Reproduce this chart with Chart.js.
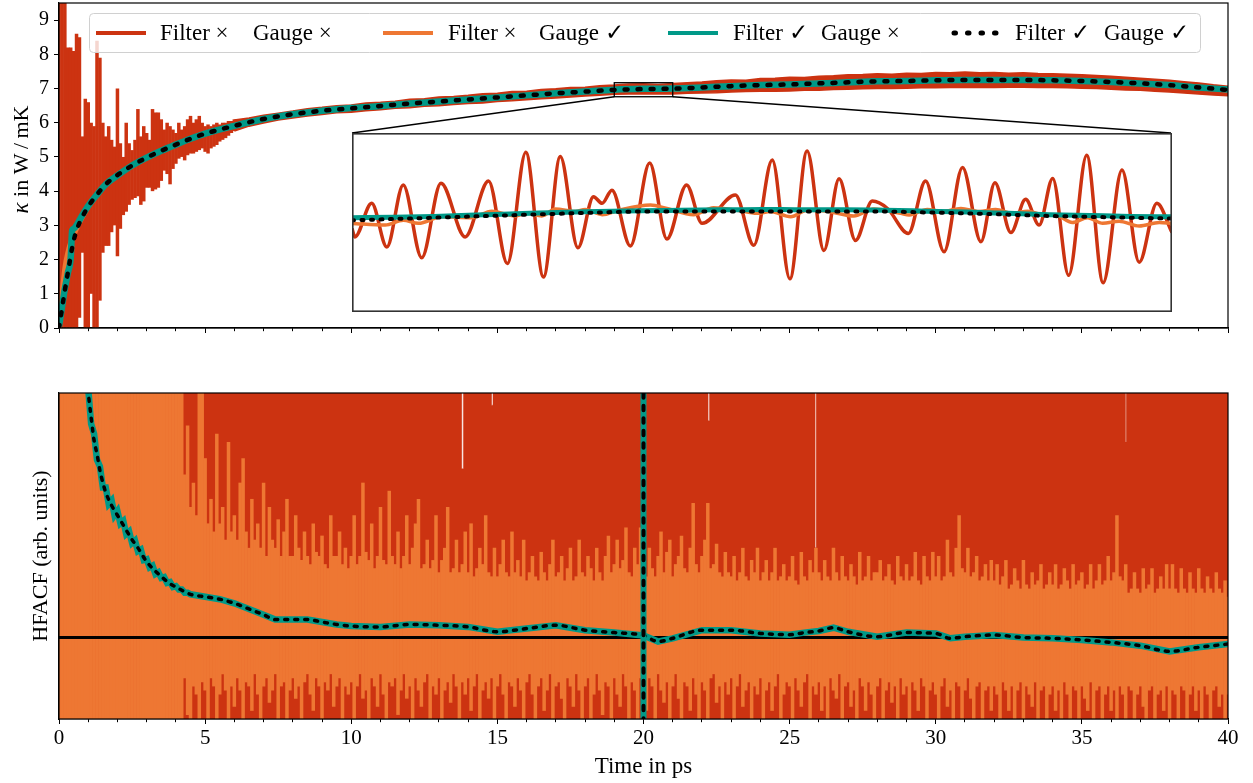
<!DOCTYPE html>
<html>
<head>
<meta charset="utf-8">
<script src="https://cdn.jsdelivr.net/npm/chart.js@4.4.1/dist/chart.umd.min.js"></script>
<style>
  html, body { margin: 0; padding: 0; background: #fff; }
  #wrap { position: relative; width: 1253px; height: 783px; overflow: hidden; }
  .panel { position: absolute; }
</style>
</head>
<body>
<div id="wrap">
  <div class="panel" style="left:0;top:0;width:1253px;height:345px"><canvas id="kappa" width="1253" height="345"></canvas></div>
  <div class="panel" style="left:352px;top:133px;width:820px;height:179px"><canvas id="zoom" width="820" height="179"></canvas></div>
  <div class="panel" style="left:0;top:345px;width:1253px;height:438px"><canvas id="hfacf" width="1253" height="438"></canvas></div>
</div>
<script>
// ---------- series names ----------
const filterMarks = ['Filter \u00d7', 'Filter \u00d7', 'Filter \u2713', 'Filter \u2713'];
const gaugeMarks  = ['Gauge \u00d7', 'Gauge \u2713', 'Gauge \u00d7', 'Gauge \u2713'];
const kappaAxisTitle = { symbol: '\u03ba', rest: ' in W\u2009/\u2009mK' };

// ---------- kappa(t), smooth series (W/mK) ----------
const kappaTime = [0, 0.1, 0.2, 0.3, 0.4, 0.45, 0.5, 0.6, 0.8, 1.0, 1.3, 1.6, 2.0, 2.5, 3.0, 3.5, 4.0, 4.5, 5,
  6, 7, 8, 9, 10, 11, 12, 13, 14, 15, 16, 17, 18, 19, 20, 21, 22, 23, 24, 25, 26, 27, 28, 29, 30,
  31, 32, 33, 34, 35, 36, 37, 38, 39, 40];
const kappaFiltGauge = [0, 0.55, 1.1, 1.6, 2.1, 2.35, 2.55, 2.85, 3.25, 3.55, 3.9, 4.2, 4.47, 4.75, 4.98, 5.18, 5.36, 5.53, 5.68,
  5.91, 6.11, 6.25, 6.35, 6.42, 6.49, 6.56, 6.62, 6.68, 6.74, 6.80, 6.86, 6.91, 6.96, 6.985, 6.995, 7.03, 7.07, 7.10, 7.12, 7.15, 7.18, 7.21, 7.22, 7.24,
  7.25, 7.25, 7.25, 7.24, 7.22, 7.19, 7.15, 7.10, 7.03, 6.96];
const kappaFilt = [0.05, 0.6, 1.15, 1.6, 2.05, 2.85, 2.9, 3.0, 3.3, 3.57, 3.9, 4.2, 4.46, 4.75, 4.98, 5.18, 5.36, 5.53, 5.68,
  5.91, 6.11, 6.25, 6.35, 6.43, 6.49, 6.56, 6.62, 6.68, 6.74, 6.80, 6.86, 6.91, 6.965, 6.99, 6.998, 7.03, 7.07, 7.10, 7.12, 7.15, 7.18, 7.21, 7.22, 7.24,
  7.25, 7.25, 7.25, 7.24, 7.22, 7.19, 7.15, 7.10, 7.03, 6.97];
const kappaGauge = [0, 0.95, 1.75, 2.2, 2.5, 2.6, 2.7, 2.9, 3.25, 3.55, 3.9, 4.2, 4.47, 4.74, 4.98, 5.18, 5.37, 5.53, 5.68,
  5.92, 6.1, 6.25, 6.36, 6.42, 6.5, 6.56, 6.62, 6.69, 6.74, 6.8, 6.87, 6.91, 6.96, 6.985, 6.98, 7.03, 7.08, 7.1, 7.12, 7.16, 7.18, 7.21, 7.23, 7.24,
  7.25, 7.26, 7.25, 7.24, 7.21, 7.18, 7.15, 7.09, 7.03, 6.96];

// ---------- kappa(t), raw series: spread of the oscillating trace ----------
const RAW_EARLY_DT = 0.1;   // bins over t = 0 ... 6 ps
const rawEarlyUpper = [9.6, 9.6, 9.6, 8.2, 8.2, 8.1, 8.6, 8.5, 5.6, 6.7, 6.6, 6.0, 5.9, 8.4, 7.9, 6.0, 5.6, 5.9, 5.5, 5.3,
  7.0, 5.4, 5.0, 6.0, 5.4, 5.2, 5.5, 6.4, 5.6, 5.9, 5.7, 5.5, 6.4, 6.3, 6.3, 6.1, 5.8, 6.0, 5.9, 5.8,
  5.7, 6.0, 5.8, 5.9, 6.1, 6.2, 6.0, 6.1, 6.2, 6.0, 5.9, 5.95, 5.9, 5.95, 6.0, 5.95, 6.0, 6.0, 6.05, 6.05, 6.1];
const rawEarlyLower = [0, 0, 0, 0, 0, 0, 0, 0.3, 2.2, 0, 0, 1.0, 0, 0, 0.8, 2.2, 2.4, 2.4, 2.8, 3.0,
  2.1, 2.9, 3.3, 3.4, 3.6, 3.75, 3.8, 3.85, 3.6, 3.7, 4.1, 4.1, 4.0, 4.05, 4.1, 4.3, 4.6, 4.5, 4.2, 4.65,
  4.8, 4.95, 5.0, 4.9, 5.05, 5.1, 5.1, 5.15, 5.2, 5.25, 5.15, 5.1, 5.25, 5.3, 5.35, 5.45, 5.5, 5.55, 5.62, 5.7, 5.76];
const RAW_LATE_START = 6, RAW_LATE_DT = 0.5;   // t = 6 ... 40 ps
const rawLateUpper = [6.08, 6.14, 6.22, 6.28, 6.34, 6.41, 6.45, 6.5, 6.52, 6.58, 6.6, 6.63, 6.69, 6.7, 6.75, 6.77, 6.8, 6.85, 6.86, 6.91,
  6.92, 6.97, 6.99, 7.03, 7.04, 7.08, 7.1, 7.13, 7.14, 7.12, 7.15, 7.17, 7.19, 7.23, 7.25, 7.24, 7.29, 7.3, 7.33, 7.32,
  7.36, 7.37, 7.4, 7.41, 7.43, 7.42, 7.45, 7.44, 7.47, 7.46, 7.48, 7.46, 7.47, 7.45, 7.46, 7.44, 7.43, 7.42, 7.4, 7.38,
  7.36, 7.33, 7.3, 7.27, 7.24, 7.2, 7.16, 7.11, 7.07];
const rawLateLower = [5.76, 5.9, 5.99, 6.08, 6.14, 6.2, 6.24, 6.29, 6.31, 6.35, 6.38, 6.42, 6.44, 6.48, 6.5, 6.53, 6.56, 6.58, 6.62, 6.64,
  6.67, 6.7, 6.72, 6.75, 6.78, 6.8, 6.83, 6.84, 6.84, 6.85, 6.84, 6.86, 6.87, 6.88, 6.9, 6.91, 6.92, 6.92, 6.93, 6.95,
  6.95, 6.97, 6.98, 6.99, 7.0, 7.0, 7.01, 7.02, 7.02, 7.03, 7.03, 7.04, 7.03, 7.04, 7.04, 7.03, 7.03, 7.02, 7.01, 7.0,
  6.98, 6.96, 6.95, 6.92, 6.9, 6.87, 6.84, 6.81, 6.79];

// ---------- magnified window: 19 ... 21 ps ----------
const zoomTimeRange = [19, 21];
const zoomKappaRange = [6.76, 7.17];
const zoomRawTime = [19.000, 19.007, 19.048, 19.085, 19.125, 19.170, 19.217, 19.276, 19.333, 19.379, 19.424, 19.467, 19.508, 19.551, 19.589, 19.610, 19.634,
  19.679, 19.726, 19.768, 19.816, 19.854, 19.935, 19.980, 20.025, 20.068, 20.110, 20.151, 20.188, 20.228, 20.269, 20.306, 20.357, 20.399, 20.444,
  20.489, 20.534, 20.568, 20.607, 20.643, 20.676, 20.709, 20.748, 20.792, 20.832, 20.878, 20.920, 20.963, 21.000];
const zoomRaw = [6.951, 6.932, 7.009, 6.909, 7.051, 6.884, 7.055, 6.932, 7.060, 6.871, 7.126, 6.840, 7.116, 6.907, 7.024, 7.009, 7.039,
  6.911, 7.101, 6.927, 7.051, 6.963, 7.028, 6.913, 7.108, 6.836, 7.129, 6.901, 7.065, 6.924, 7.014, 6.997, 6.940, 7.060, 6.898,
  7.091, 6.921, 7.056, 6.942, 7.018, 6.959, 7.066, 6.844, 7.119, 6.827, 7.085, 6.874, 7.009, 6.942];
const zoomGaugeTime = [19.000, 19.081, 19.125, 19.162, 19.219, 19.292, 19.341, 19.398, 19.427, 19.463, 19.496, 19.545, 19.569, 19.610, 19.650,
  19.728, 19.768, 19.833, 19.882, 19.939, 19.988, 20.021, 20.070, 20.110, 20.159, 20.224, 20.273, 20.338, 20.359, 20.403, 20.440, 20.485,
  20.529, 20.570, 20.611, 20.648, 20.684, 20.717, 20.757, 20.794, 20.831, 20.871, 20.920, 20.969, 21.000];
const zoomGauge = [6.963, 6.959, 6.970, 6.963, 6.978, 6.976, 6.991, 6.980, 6.986, 6.980, 6.996, 6.990, 6.995, 6.983, 6.993,
  7.005, 6.997, 6.983, 6.999, 6.993, 6.986, 6.990, 6.978, 6.993, 6.991, 6.980, 6.996, 6.986, 6.982, 6.995, 6.990, 6.997,
  6.990, 6.995, 6.986, 6.991, 6.983, 6.982, 6.965, 6.976, 6.963, 6.968, 6.957, 6.965, 6.963];
const zoomSmoothTime = [19.0, 19.1, 19.2, 19.3, 19.4, 19.5, 19.6, 19.7, 19.8, 19.9, 20.0, 20.1, 20.2, 20.3, 20.4, 20.5, 20.6, 20.7, 20.8, 20.9, 21.0];
const zoomFilt = [6.976, 6.977, 6.979, 6.982, 6.985, 6.988, 6.990, 6.992, 6.993, 6.994, 6.995, 6.994, 6.994, 6.993, 6.991, 6.989, 6.986, 6.983, 6.981, 6.979, 6.978];
const zoomFiltGauge = [6.970, 6.973, 6.976, 6.979, 6.982, 6.985, 6.988, 6.990, 6.990, 6.990, 6.990, 6.990, 6.990, 6.990, 6.988, 6.986, 6.983, 6.980, 6.978, 6.976, 6.974];

// ---------- HFACF (arb. units) ----------
// gauge-only trace: reach above and below per 0.1 ps bin, t = 0 ... 40 ps
const HF_DT = 0.1;
const hfGaugeUpper = [
  3.5, 3.5, 3.5, 3.5, 3.5, 3.5, 3.5, 3.5, 3.5, 3.5, 3.5, 3.5, 3.5, 3.5, 3.5, 3.5, 3.5, 3.5, 3.5, 3.5,
  3.5, 3.5, 3.5, 3.5, 3.5, 3.5, 3.5, 3.5, 3.5, 3.5, 3.5, 3.5, 3.5, 3.5, 3.5, 3.5, 3.5, 3.5, 3.5, 3.5,
  3.5, 3.5, 3.5, 2.0, 2.6, 1.6, 1.9, 1.5, 3.5, 3.5, 2.2, 1.4, 1.7, 1.3, 2.5, 1.4, 1.6, 1.2, 2.4, 1.3,
  1.5, 1.2, 1.9, 2.2, 1.3, 1.1, 1.7, 1.2, 1.4, 1.1, 1.9, 1.0, 1.6, 1.2, 1.1, 1.45, 1.0, 1.3, 1.7, 1.0,
  1.0, 1.5, 1.1, 0.95, 1.3, 1.0, 0.9, 1.4, 1.05, 1.0, 1.25, 0.9, 0.85, 1.5, 1.0, 1.0, 1.3, 0.9, 1.1, 0.85,
  1.0, 1.5, 0.9, 1.0, 1.9, 1.05, 0.95, 1.4, 0.85, 1.0, 1.6, 0.95, 0.9, 1.8, 1.0, 0.9, 1.3, 0.85, 1.0, 1.5,
  0.9, 1.1, 1.4, 1.7, 0.85, 0.9, 1.2, 0.85, 0.95, 1.5, 0.8, 0.95, 1.1, 1.6, 0.8, 0.85, 1.2, 0.8, 0.9, 1.3,
  0.8, 1.4, 0.75, 0.85, 1.1, 0.9, 1.5, 0.8, 0.75, 1.1, 0.75, 0.9, 1.2, 0.8, 0.75, 1.3, 0.8, 0.95, 0.75, 1.2,
  0.7, 0.8, 1.0, 0.75, 0.7, 1.05, 0.8, 0.7, 0.9, 1.2, 0.75, 0.8, 1.0, 0.7, 0.85, 1.1, 0.7, 0.75, 1.2, 0.8,
  0.75, 1.0, 0.85, 0.7, 1.1, 0.8, 0.7, 1.0, 1.25, 0.8, 0.9, 1.2, 0.85, 0.95, 1.35, 0.8, 0.75, 1.1, 0.9, 1.35,
  0.8, 0.75, 1.1, 0.85, 0.75, 1.0, 1.3, 0.8, 1.05, 1.2, 0.75, 0.9, 1.0, 1.25, 0.85, 0.8, 1.1, 1.65, 0.9, 0.8,
  1.0, 1.2, 1.65, 0.85, 0.9, 1.15, 0.8, 0.75, 1.05, 0.8, 0.75, 1.0, 0.7, 0.8, 1.1, 0.75, 0.7, 0.95, 0.8, 1.1,
  0.7, 0.8, 0.95, 0.7, 0.8, 1.1, 0.7, 0.75, 0.9, 0.7, 0.75, 1.0, 0.7, 0.65, 1.05, 0.75, 0.7, 0.95, 0.8, 1.1,
  0.8, 0.7, 0.95, 0.75, 0.7, 1.1, 0.8, 0.7, 1.0, 0.75, 0.7, 0.9, 0.75, 0.65, 1.05, 0.7, 0.75, 1.0, 0.7, 0.8,
  0.8, 0.95, 0.7, 0.75, 0.9, 0.7, 0.65, 1.0, 0.75, 0.7, 0.9, 0.7, 0.75, 1.05, 0.7, 0.65, 1.0, 0.75, 0.7, 1.05,
  0.75, 1.0, 0.7, 0.75, 1.2, 0.8, 0.75, 1.1, 1.5, 0.85, 0.8, 1.1, 0.75, 0.8, 1.0, 0.7, 0.75, 0.9, 0.7, 0.95,
  0.7, 0.9, 0.65, 0.75, 0.95, 0.6, 0.65, 0.85, 0.7, 0.6, 0.95, 0.65, 0.6, 0.8, 0.65, 0.7, 0.9, 0.6, 0.65, 0.8,
  0.65, 0.9, 0.6, 0.65, 0.85, 0.7, 0.6, 0.9, 0.65, 0.7, 0.8, 0.6, 0.65, 0.9, 0.6, 0.7, 0.9, 0.65, 0.7, 1.0,
  0.7, 0.8, 1.5, 0.75, 0.7, 0.9, 0.55, 0.6, 0.8, 0.6, 0.55, 0.85, 0.6, 0.65, 0.85, 0.55, 0.6, 0.75, 0.6, 0.9,
  0.6, 0.9, 0.6, 0.55, 0.85, 0.6, 0.55, 0.8, 0.6, 0.55, 0.85, 0.6, 0.55, 0.75, 0.6, 0.55, 0.8, 0.6, 0.55, 0.7,
  0.5];
const hfGaugeLower = [
  -1.2, -1.2, -1.2, -1.2, -1.2, -1.2, -1.2, -1.2, -1.2, -1.2, -1.2, -1.2, -1.2, -1.2, -1.2, -1.2, -1.2, -1.2, -1.2, -1.2,
  -1.2, -1.2, -1.2, -1.2, -1.2, -1.2, -1.2, -1.2, -1.2, -1.2, -1.2, -1.2, -1.2, -1.2, -1.2, -1.2, -1.2, -1.2, -1.2, -1.2,
  -1.2, -1.2, -1.2, -0.5, -0.95, -1.2, -0.6, -0.7, -1.2, -0.55, -0.65, -1.0, -0.5, -0.6, -1.2, -0.7, -0.45, -0.65, -1.2, -0.6,
  -0.85, -0.5, -0.65, -1.2, -0.55, -0.6, -0.9, -0.45, -0.7, -1.2, -0.6, -0.5, -0.8, -0.65, -0.45, -1.0, -0.6, -0.55, -1.2, -0.65,
  -0.5, -0.75, -0.6, -1.2, -0.55, -0.45, -0.7, -0.9, -0.5, -0.6, -1.2, -0.55, -0.65, -0.45, -0.85, -0.6, -0.5, -1.0, -0.6, -0.7,
  -0.55, -1.2, -0.6, -0.45, -0.75, -0.65, -1.0, -0.5, -0.6, -0.85, -0.45, -0.7, -1.2, -0.55, -0.6, -0.5, -0.95, -0.65, -0.45, -0.75,
  -0.6, -1.2, -0.5, -0.65, -0.85, -0.55, -0.45, -1.0, -0.6, -0.7, -0.5, -1.2, -0.65, -0.55, -0.8, -0.45, -0.6, -1.0, -0.55, -0.7,
  -0.5, -0.9, -0.6, -0.45, -1.2, -0.65, -0.55, -0.75, -0.5, -1.0, -0.6, -0.45, -0.7, -1.2, -0.55, -0.6, -0.85, -0.5, -0.65, -1.0,
  -0.55, -0.45, -0.7, -1.2, -0.6, -0.5, -0.9, -0.65, -0.45, -1.0, -0.6, -0.55, -0.75, -1.2, -0.5, -0.6, -0.85, -0.45, -0.65, -1.0,
  -0.6, -0.5, -1.2, -0.7, -0.45, -0.65, -0.95, -0.55, -0.6, -1.2, -0.5, -0.7, -0.85, -0.45, -0.6, -1.0, -0.55, -0.65, -1.2, -0.5,
  -0.7, -0.9, -0.5, -0.6, -1.2, -0.45, -0.65, -0.8, -0.55, -1.0, -0.6, -0.45, -0.75, -1.2, -0.55, -0.6, -0.9, -0.5, -0.7, -1.0,
  -0.55, -0.65, -1.2, -0.5, -0.45, -0.8, -0.6, -1.0, -0.55, -0.7, -0.5, -1.2, -0.6, -0.45, -0.85, -0.65, -0.55, -1.0, -0.6, -0.7,
  -0.5, -1.2, -0.65, -0.55, -0.9, -0.6, -0.45, -1.0, -0.7, -0.55, -0.6, -1.2, -0.5, -0.65, -0.85, -0.55, -0.45, -1.0, -0.6, -0.7,
  -0.55, -0.9, -0.6, -1.2, -0.5, -0.65, -0.75, -0.45, -1.0, -0.6, -0.55, -0.85, -0.65, -1.2, -0.5, -0.6, -0.9, -0.55, -0.7, -1.0,
  -0.6, -0.5, -1.2, -0.65, -0.55, -0.8, -0.6, -1.0, -0.5, -0.7, -0.6, -1.2, -0.55, -0.65, -0.9, -0.5, -0.6, -1.0, -0.65, -0.55,
  -0.7, -1.2, -0.6, -0.5, -0.85, -0.65, -1.0, -0.55, -0.6, -1.2, -0.65, -0.5, -0.75, -1.0, -0.6, -0.55, -1.2, -0.65, -0.6, -0.9,
  -0.6, -0.7, -1.2, -0.55, -0.65, -0.9, -0.6, -1.0, -0.65, -0.55, -1.2, -0.6, -0.7, -0.85, -0.55, -1.0, -0.65, -0.6, -1.2, -0.7,
  -0.6, -0.9, -0.65, -1.2, -0.55, -0.7, -1.0, -0.6, -0.65, -1.2, -0.6, -0.75, -0.9, -0.55, -1.0, -0.65, -0.6, -1.2, -0.7, -0.6,
  -0.9, -0.65, -1.2, -0.6, -0.7, -1.0, -0.6, -0.65, -1.2, -0.7, -0.6, -0.85, -1.0, -0.65, -0.6, -1.2, -0.7, -0.65, -0.9, -0.6,
  -1.2, -0.65, -0.7, -1.0, -0.6, -0.65, -1.2, -0.7, -0.6, -0.9, -0.65, -1.0, -0.6, -0.7, -1.2, -0.65, -0.6, -0.85, -0.7, -1.0,
  -0.7];
// raw (no filter, no gauge) trace: upper reach, with its few short dips
const hfRawTopTime = [0, 13.78, 13.84, 14.80, 14.85, 22.21, 22.26, 25.87, 25.91, 36.49, 36.52, 40];
const hfRawTop     = [3.5, 2.07, 3.5, 2.85, 3.5, 2.66, 3.5, 1.10, 3.5, 2.4, 3.5, 3.5];
const HF_RAW_FLOOR = -1.5;
// filtered + gauge curve
const hfSmoothTime = [0.9, 1.0, 1.1, 1.2, 1.3, 1.4, 1.5, 1.6, 1.8, 2.0, 2.2, 2.5, 2.7, 3.0, 3.4, 3.8, 4.0, 4.5, 5.0, 5.5, 6.0, 6.5, 7.0, 7.4,
  8.0, 8.5, 9.0, 9.5, 10, 11, 12, 13, 14, 15, 16, 17, 18, 19, 20, 20.5, 21, 22, 23, 24, 25, 25.5, 26, 26.5, 27, 28, 29, 30, 30.5,
  31, 32, 33, 34, 35, 36, 37, 38, 39, 40];
const hfFiltGauge = [3.3, 3.0, 2.7, 2.42, 2.25, 2.05, 1.9, 1.78, 1.62, 1.5, 1.38, 1.2, 1.1, 0.93, 0.78, 0.66, 0.62, 0.53, 0.5, 0.47, 0.42, 0.35, 0.28, 0.22,
  0.22, 0.22, 0.19, 0.16, 0.14, 0.13, 0.16, 0.15, 0.13, 0.07, 0.11, 0.15, 0.09, 0.06, 0.025, -0.05, -0.01, 0.09, 0.09, 0.05, 0.035, 0.06, 0.08, 0.12, 0.07, 0.01, 0.06, 0.05, -0.01,
  0.01, 0.03, 0.0, -0.01, -0.03, -0.06, -0.1, -0.17, -0.12, -0.08];
// filter-only curve (ragged at short times)
const hfFiltTime = [0.9, 1.0, 1.1, 1.2, 1.3, 1.4, 1.5, 1.6, 1.7, 1.8, 1.9, 2.0, 2.1, 2.2, 2.3, 2.4, 2.5, 2.6, 2.7, 2.8, 2.9, 3.0,
  3.1, 3.2, 3.3, 3.4, 3.5, 3.6, 3.7, 3.8, 3.9, 4.0, 4.1, 4.2, 4.3, 4.4, 4.5, 5.0, 5.5, 6.0, 6.5, 7.0, 7.4,
  8.0, 8.5, 9.0, 9.5, 10, 11, 12, 13, 14, 15, 16, 17, 18, 19, 20, 20.5, 21, 22, 23, 24, 25, 25.5, 26, 26.5, 27, 28, 29, 30, 30.5,
  31, 32, 33, 34, 35, 36, 37, 38, 39, 40];
const hfFilt = [3.3, 3.05, 2.62, 2.5, 2.18, 2.1, 1.84, 1.84, 1.64, 1.68, 1.5, 1.55, 1.4, 1.43, 1.27, 1.3, 1.16, 1.19, 1.06, 1.08, 0.95, 0.96,
  0.86, 0.88, 0.78, 0.8, 0.73, 0.74, 0.67, 0.68, 0.62, 0.63, 0.59, 0.59, 0.55, 0.55, 0.53, 0.5, 0.47, 0.42, 0.35, 0.28, 0.22,
  0.22, 0.22, 0.19, 0.16, 0.14, 0.13, 0.16, 0.15, 0.13, 0.07, 0.11, 0.15, 0.09, 0.06, 0.025, -0.05, -0.01, 0.09, 0.09, 0.05, 0.035, 0.06, 0.08, 0.12, 0.07, 0.01, 0.06, 0.05, -0.01,
  0.01, 0.03, 0.0, -0.01, -0.03, -0.06, -0.1, -0.17, -0.12, -0.08];
const filterCutoff = 20;   // ps
const timeTicks = [0, 5, 10, 15, 20, 25, 30, 35, 40];
const kappaTicks = [0, 1, 2, 3, 4, 5, 6, 7, 8, 9];

// ---------- helpers ----------
const RED = '#CC3311', ORANGE = '#EE7733', TEAL = '#009988', BLACK = '#000000';
const FONT = "'Liberation Serif', 'DejaVu Serif', serif";
Chart.defaults.font.family = FONT;
Chart.defaults.color = '#000';
Chart.defaults.animation = false;

const pairs = (xs, ys) => ys.map((y, i) => ({ x: xs[i], y }));
const sampled = (t0, dt, ys) => ys.map((y, i) => ({ x: +(t0 + i * dt).toFixed(3), y }));
const binned = (t0, dt, lo, hi) => lo.map((l, i) => ({ x: +(t0 + i * dt).toFixed(3), y: [l, hi[i]] }));

const lineDs = (data, color, width, extra) => Object.assign({
  data, borderColor: color, backgroundColor: color, borderWidth: width,
  pointRadius: 0, pointHoverRadius: 0, fill: false, tension: 0
}, extra || {});
const rangeDs = (data, color, extra) => Object.assign({
  type: 'bar', data, backgroundColor: color, borderWidth: 0,
  barPercentage: 1.2, categoryPercentage: 1, grouped: false
}, extra || {});

// full box around the plotting area
const framePlugin = {
  id: 'frame',
  afterDatasetsDraw(chart) {
    const a = chart.chartArea, c = chart.ctx;
    c.save();
    c.strokeStyle = '#000';
    c.lineWidth = 1.2;
    c.strokeRect(a.left, a.top, a.right - a.left, a.bottom - a.top);
    c.restore();
  }
};

const minorTickDash = (ctx) => (ctx.tick && timeTicks.includes(ctx.tick.value)) ? [] : [3, 20];
const fixedWidthY = (s) => { s.width = 59; s.paddingTop = 0; s.paddingBottom = 0; };

// ---------- top panel: kappa ----------
const INSET_BOX = { left: 352, top: 133, width: 819, height: 178 };

const zoomMarkPlugin = {
  id: 'zoomMark',
  afterDatasetsDraw(chart) {
    const xs = chart.scales.x, ys = chart.scales.y, c = chart.ctx;
    const x0 = xs.getPixelForValue(zoomTimeRange[0]), x1 = xs.getPixelForValue(zoomTimeRange[1]);
    const yTop = ys.getPixelForValue(zoomKappaRange[1]), yBot = ys.getPixelForValue(zoomKappaRange[0]);
    c.save();
    c.strokeStyle = '#000';
    c.lineWidth = 1.3;
    c.strokeRect(x0, yTop, x1 - x0, yBot - yTop);
    c.beginPath();
    c.moveTo(x0, yBot); c.lineTo(INSET_BOX.left, INSET_BOX.top);
    c.moveTo(x1, yBot); c.lineTo(INSET_BOX.left + INSET_BOX.width, INSET_BOX.top);
    c.stroke();
    c.restore();
  }
};

// y title with an italic kappa
const kappaTitlePlugin = {
  id: 'kappaTitle',
  afterDraw(chart) {
    const a = chart.chartArea, c = chart.ctx;
    c.save();
    c.translate(22, (a.top + a.bottom) / 2 - 6);
    c.rotate(-Math.PI / 2);
    c.fillStyle = '#000';
    c.textBaseline = 'middle';
    c.textAlign = 'left';
    const fSym = 'italic 23px ' + FONT, fRest = '22px ' + FONT;
    c.font = fSym; const w1 = c.measureText(kappaAxisTitle.symbol).width;
    c.font = fRest; const w2 = c.measureText(kappaAxisTitle.rest).width;
    const x0 = -(w1 + w2) / 2;
    c.font = fSym; c.fillText(kappaAxisTitle.symbol, x0, 0);
    c.font = fRest; c.fillText(kappaAxisTitle.rest, x0 + w1, 0);
    c.restore();
  }
};

const legendItems = [
  { color: RED,    dotted: false, x: 96,  tf: 160,  tg: 253 },
  { color: ORANGE, dotted: false, x: 383, tf: 448,  tg: 539 },
  { color: TEAL,   dotted: false, x: 668, tf: 733,  tg: 821 },
  { color: BLACK,  dotted: true,  x: 951, tf: 1015, tg: 1104 }
];
const legendPlugin = {
  id: 'seriesLegend',
  afterDraw(chart) {
    const c = chart.ctx;
    const bx = 89.5, by = 13.5, bw = 1111, bh = 39;
    c.save();
    c.beginPath();
    c.roundRect(bx, by, bw, bh, 4);
    c.fillStyle = 'rgba(255,255,255,0.8)';
    c.fill();
    c.strokeStyle = '#d0d0d0';
    c.lineWidth = 1;
    c.stroke();
    const cy = by + bh / 2;
    legendItems.forEach((it, i) => {
      c.beginPath();
      c.strokeStyle = it.color;
      if (it.dotted) {
        c.lineWidth = 5; c.lineCap = 'round'; c.setLineDash([1.5, 12]);
        c.moveTo(it.x + 3, cy); c.lineTo(it.x + 46, cy);
      } else {
        c.lineWidth = 4; c.lineCap = 'butt'; c.setLineDash([]);
        c.moveTo(it.x, cy); c.lineTo(it.x + 50, cy);
      }
      c.stroke();
      c.setLineDash([]);
      c.fillStyle = '#000';
      c.font = '23px ' + FONT;
      c.textBaseline = 'middle';
      c.textAlign = 'left';
      c.fillText(filterMarks[i], it.tf, cy + 1);
      c.fillText(gaugeMarks[i], it.tg, cy + 1);
    });
    c.restore();
  }
};

new Chart(document.getElementById('kappa'), {
  type: 'line',
  data: {
    datasets: [
      lineDs(pairs(kappaTime, kappaFiltGauge), BLACK, 4.5, { borderDash: [3, 10], borderCapStyle: 'round', cubicInterpolationMode: 'monotone', order: 0 }),
      lineDs(pairs(kappaTime, kappaFilt), TEAL, 6.5, { cubicInterpolationMode: 'monotone', order: 1 }),
      lineDs(pairs(kappaTime, kappaGauge), ORANGE, 5, { cubicInterpolationMode: 'monotone', order: 2 }),
      rangeDs(binned(0, RAW_EARLY_DT, rawEarlyLower, rawEarlyUpper), RED, { order: 3 }),
      lineDs(sampled(RAW_LATE_START, RAW_LATE_DT, rawLateLower), RED, 1.5, { order: 5 }),
      lineDs(sampled(RAW_LATE_START, RAW_LATE_DT, rawLateUpper), RED, 1.5, { fill: { target: 4 }, order: 6 })
    ]
  },
  options: {
    responsive: false,
    devicePixelRatio: 1,
    layout: { padding: { top: 3, right: 25, left: 0, bottom: 0 } },
    plugins: { legend: { display: false }, tooltip: { enabled: false } },
    events: [],
    scales: {
      x: {
        type: 'linear', min: 0, max: 40, offset: false,
        ticks: { stepSize: 1, display: false, autoSkip: false },
        grid: { offset: false, drawOnChartArea: false, drawTicks: true, tickLength: 5, tickColor: '#000', tickBorderDash: minorTickDash },
        border: { display: true, color: '#000', width: 1.2 },
        afterFit: (s) => { s.height = 17; }
      },
      y: {
        type: 'linear', min: 0, max: 9.5,
        afterBuildTicks: (s) => { s.ticks = kappaTicks.map(v => ({ value: v })); },
        ticks: { font: { size: 20 }, padding: 5, color: '#000' },
        grid: { drawOnChartArea: false, drawTicks: true, tickLength: 5, tickColor: '#000' },
        border: { display: true, color: '#000', width: 1.2 },
        afterFit: fixedWidthY
      }
    }
  },
  plugins: [framePlugin, zoomMarkPlugin, kappaTitlePlugin, legendPlugin]
});

// ---------- magnified window ----------
const insetBorderPlugin = {
  id: 'insetBorder',
  afterDraw(chart) {
    const c = chart.ctx;
    c.save();
    c.strokeStyle = '#333';
    c.lineWidth = 1.6;
    c.strokeRect(0.8, 0.8, INSET_BOX.width - 0.6, INSET_BOX.height - 0.6);
    c.restore();
  }
};
new Chart(document.getElementById('zoom'), {
  type: 'line',
  data: {
    datasets: [
      lineDs(pairs(zoomSmoothTime, zoomFiltGauge), BLACK, 4, { borderDash: [2, 7.5], borderCapStyle: 'round', cubicInterpolationMode: 'monotone', order: 0, clip: 0 }),
      lineDs(pairs(zoomSmoothTime, zoomFilt), TEAL, 5, { cubicInterpolationMode: 'monotone', order: 1, clip: 0 }),
      lineDs(pairs(zoomGaugeTime, zoomGauge), ORANGE, 3.5, { cubicInterpolationMode: 'monotone', order: 2, clip: 0 }),
      lineDs(pairs(zoomRawTime, zoomRaw), RED, 3.5, { cubicInterpolationMode: 'monotone', order: 3, clip: 0 })
    ]
  },
  options: {
    responsive: false,
    devicePixelRatio: 1,
    layout: { padding: 0 },
    plugins: { legend: { display: false }, tooltip: { enabled: false } },
    events: [],
    scales: {
      x: { type: 'linear', min: zoomTimeRange[0], max: zoomTimeRange[1], display: false },
      y: { type: 'linear', min: zoomKappaRange[0], max: zoomKappaRange[1], display: false }
    }
  },
  plugins: [insetBorderPlugin]
});

// ---------- bottom panel: HFACF ----------
new Chart(document.getElementById('hfacf'), {
  type: 'line',
  data: {
    datasets: [
      lineDs([{ x: filterCutoff, y: -1.2 }, { x: filterCutoff, y: 3.5 }], BLACK, 4, { borderDash: [4.5, 8], borderCapStyle: 'round', order: 0 }),
      lineDs([{ x: filterCutoff, y: -1.2 }, { x: filterCutoff, y: 3.5 }], TEAL, 6, { order: 1 }),
      lineDs(pairs(hfSmoothTime, hfFiltGauge), BLACK, 3.5, { borderDash: [3, 7], borderCapStyle: 'round', cubicInterpolationMode: 'monotone', order: 2 }),
      lineDs(pairs(hfFiltTime, hfFilt), TEAL, 6.5, { order: 3 }),
      lineDs([{ x: 0, y: 0 }, { x: 40, y: 0 }], BLACK, 3, { order: 4 }),
      rangeDs(binned(0, HF_DT, hfGaugeLower, hfGaugeUpper), ORANGE, { order: 5 }),
      lineDs(pairs(hfRawTopTime, hfRawTop), RED, 0.5, { stepped: 'before', fill: { value: HF_RAW_FLOOR }, order: 7 })
    ]
  },
  options: {
    responsive: false,
    devicePixelRatio: 1,
    layout: { padding: { top: 48, right: 25, left: 0, bottom: 0 } },
    plugins: { legend: { display: false }, tooltip: { enabled: false } },
    events: [],
    scales: {
      x: {
        type: 'linear', min: 0, max: 40, offset: false,
        ticks: {
          stepSize: 1, autoSkip: false, maxRotation: 0, font: { size: 21 }, padding: 2, color: '#000',
          callback: (v) => timeTicks.includes(v) ? String(v) : ''
        },
        grid: { offset: false, drawOnChartArea: false, drawTicks: true, tickLength: 5, tickColor: '#000', tickBorderDash: minorTickDash },
        border: { display: true, color: '#000', width: 1.2 },
        title: { display: true, text: 'Time in ps', font: { size: 23 }, padding: { top: 0, bottom: 2 } },
        afterFit: (s) => { s.height = 64; }
      },
      y: {
        type: 'linear', min: -1, max: 3,
        ticks: { display: false },
        grid: { display: false },
        border: { display: true, color: '#000', width: 1.2 },
        title: { display: true, text: 'HFACF (arb. units)', font: { size: 22 }, padding: { top: 28, bottom: 0 } },
        afterFit: fixedWidthY
      }
    }
  },
  plugins: [framePlugin]
});
</script>
</body>
</html>
